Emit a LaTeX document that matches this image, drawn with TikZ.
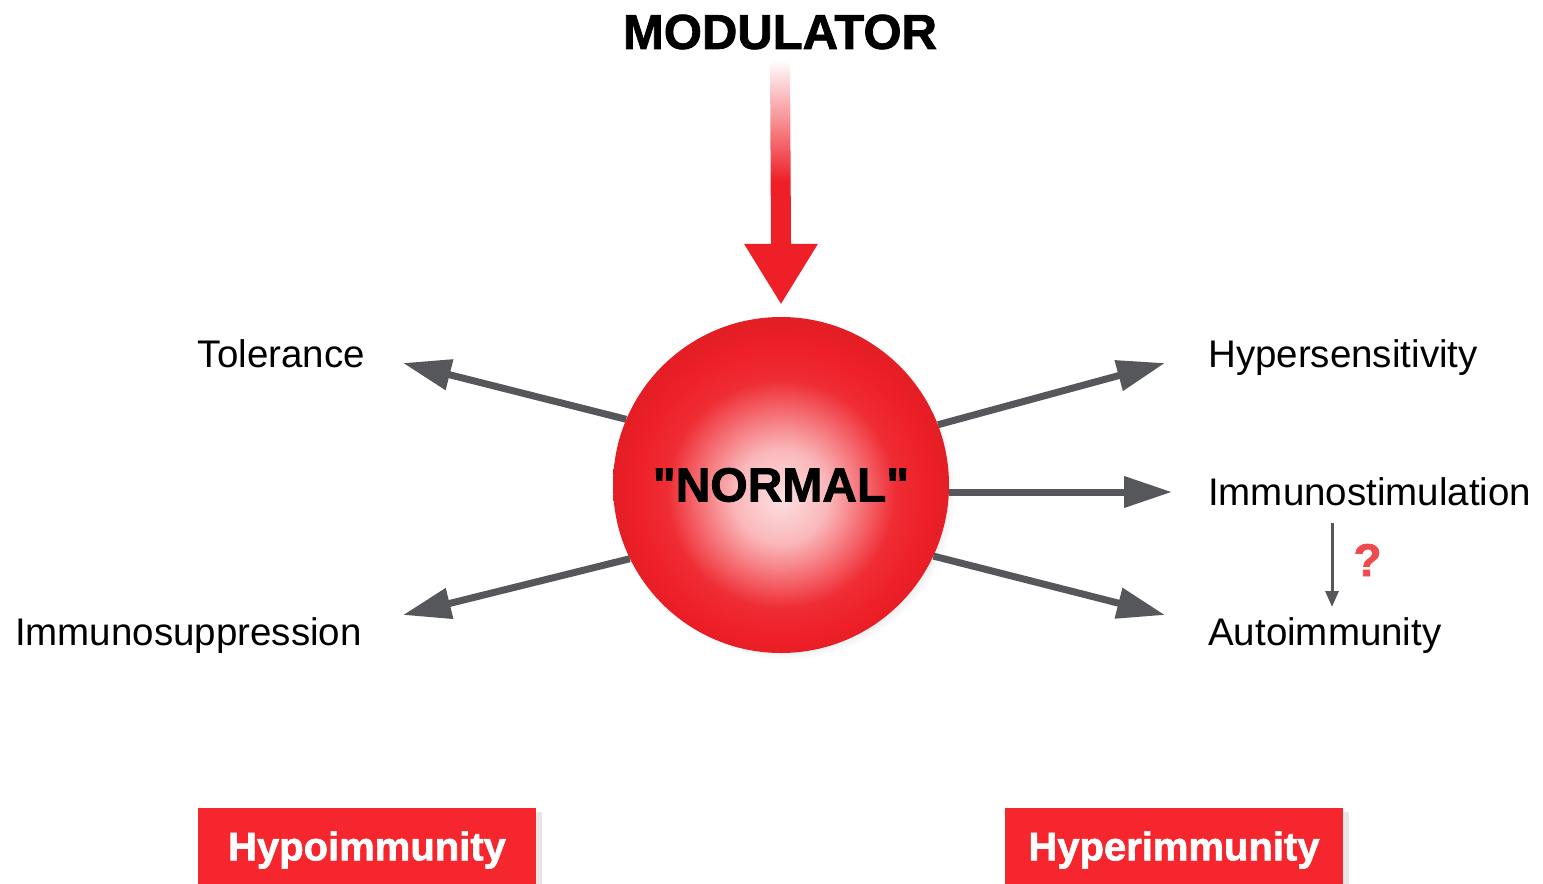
\documentclass[tikz,border=0pt]{standalone}
\usepackage{fontspec}
\setmainfont{Liberation Sans}
\newfontfamily\heavyfont{Liberation Sans Bold}[FakeBold=1.6]
\usetikzlibrary{arrows.meta, positioning, calc, shadows}
\definecolor{cRed}  {HTML}{EE1F27}
\definecolor{cBox}  {HTML}{F5262D}
\definecolor{cGray} {HTML}{55575A}
\definecolor{cQuery}{HTML}{EF4A4F}
\pgfdeclareradialshading{normalball}{\pgfpoint{0bp}{-2bp}}{%
  color(0bp)=(cRed!14!white); color(7bp)=(cRed!32!white);
  color(17bp)=(cRed!94!white); color(22bp)=(cRed);
  color(25bp)=(cRed!96!black); color(50bp)=(cRed!96!black)}

\begin{document}
\begin{tikzpicture}[x=1pt, y=-1pt,
        ball/.style   = {circle, minimum size=336pt, inner sep=0pt, shade, shading=normalball,
                         circular drop shadow={shadow xshift=6pt, shadow yshift=-6pt, shadow scale=1.0, opacity=0.35},
                         font=\heavyfont\fontsize{48}{56}\selectfont},
        modlbl/.style = {inner sep=0pt, font=\heavyfont\fontsize{49}{58}\selectfont},
        lbl/.style    = {inner sep=0pt, font=\fontsize{38.5}{46}\selectfont},
        spoke/.style  = {draw=cGray, line width=7pt, -{Triangle[length=48pt, width=30pt]}},
        query/.style  = {draw=cGray, line width=3pt, -{Triangle[length=16pt, width=13pt]}},
        qmark/.style  = {inner sep=0pt, text=cQuery, font=\heavyfont\fontsize{46}{54}\selectfont},
        tag/.style    = {fill=cBox, text=white, minimum width=338pt, minimum height=84pt, inner sep=0pt,
                         drop shadow={shadow xshift=6pt, shadow yshift=-4pt, opacity=0.2},
                         font=\heavyfont\fontsize{40}{48}\selectfont} ]
      \useasboundingbox (0,0) rectangle (1543,884);

      \node[modlbl] (mod) at (780,32) {MODULATOR};
      \node[ball] (normal) at (781,485) {\textquotedbl NORMAL\textquotedbl};

      % modulator arrow, fading in from the top
      \coordinate (mTop) at ($(mod.south)+(0,10)$);
      \coordinate (mTip) at ($(normal.north)+(0,-13)$);
      \shade[top color=white, bottom color=cRed, middle color=cRed]
        ($(mTop)+(-10,0)$) -- ($(mTop)+(10,0)$) -- ($(mTip)+(10,-60)$) -- ($(mTip)+(37,-60)$)
        -- (mTip) -- ($(mTip)+(-37,-60)$) -- ($(mTip)+(-10,-60)$) -- cycle;

      \node[lbl, anchor=base east] (tol)   at (365,367)  {Tolerance};
      \node[lbl, anchor=base east] (supp)  at (362,645)  {Immunosuppression};
      \node[lbl, anchor=base west] (hyper) at (1208,367) {Hypersensitivity};
      \node[lbl, anchor=base west] (stim)  at (1208,505) {Immunostimulation};
      \node[lbl, anchor=base west] (auto)  at (1208,645) {Autoimmunity};

      \coordinate (tTol)   at (403,363);
      \coordinate (tSupp)  at (403,615);
      \coordinate (tHyper) at (1165,363);
      \coordinate (tStim)  at (1172,492);
      \coordinate (tAuto)  at (1165,615);

      \draw[spoke] (normal.157) -- (tTol);
      \draw[spoke] (normal.206) -- (tSupp);
      \draw[spoke] (normal.21)  -- (tHyper);
      \draw[spoke] (normal.east |- tStim) -- (tStim);
      \draw[spoke] (normal.-25) -- (tAuto);

      \draw[query] ($(stim.base west)+(124,18)$) -- ($(auto.base west)+(124,-38)$)
        node[qmark, midway, right=20pt, yshift=5pt] (q) {?};

      \node[tag] (hypo)  at (367,850)  {Hypoimmunity};
      \node[tag] (hyper2) at (1174,850) {Hyperimmunity};
    \end{tikzpicture}
\end{document}
